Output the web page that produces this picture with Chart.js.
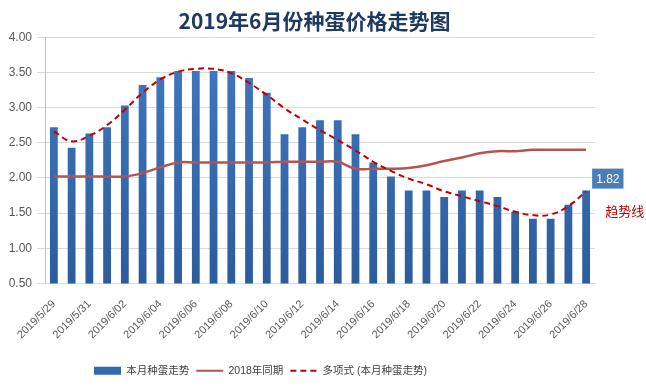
<!DOCTYPE html>
<html>
<head>
<meta charset="utf-8">
<title>2019年6月份种蛋价格走势图</title>
<script src="https://cdn.jsdelivr.net/npm/chart.js@4.4.0/dist/chart.umd.min.js"></script>
<style>
    html, body { margin: 0; padding: 0; background: #fff; }
    .chart-box { position: relative; width: 646px; height: 387px; }
</style>
</head>
<body>
<div class="chart-box"><canvas id="eggChart"></canvas></div>
<script>
// dates (one bar per day), labels shown every other day
const dates = [
    '2019/5/29', '2019/5/30', '2019/5/31', '2019/6/01', '2019/6/02', '2019/6/03',
    '2019/6/04', '2019/6/05', '2019/6/06', '2019/6/07', '2019/6/08', '2019/6/09',
    '2019/6/10', '2019/6/11', '2019/6/12', '2019/6/13', '2019/6/14', '2019/6/15',
    '2019/6/16', '2019/6/17', '2019/6/18', '2019/6/19', '2019/6/20', '2019/6/21',
    '2019/6/22', '2019/6/23', '2019/6/24', '2019/6/25', '2019/6/26', '2019/6/27',
    '2019/6/28'
];
const thisMonth = [
    2.72, 2.43, 2.63, 2.72, 3.03, 3.32, 3.43, 3.52, 3.52, 3.52, 3.52, 3.42, 3.21,
    2.62, 2.72, 2.82, 2.82, 2.62, 2.22, 2.02, 1.82, 1.82, 1.73, 1.82, 1.82, 1.73,
    1.52, 1.42, 1.42, 1.62, 1.82
];
const lastYear = [
    2.02, 2.02, 2.02, 2.02, 2.02, 2.07, 2.15, 2.22, 2.22, 2.22, 2.22, 2.22, 2.22,
    2.23, 2.23, 2.23, 2.23, 2.13, 2.13, 2.13, 2.14, 2.18, 2.24, 2.29, 2.35, 2.38,
    2.38, 2.40, 2.40, 2.40, 2.40
];
// polynomial trend
const trendLine = [
    2.66, 2.52, 2.60, 2.75, 2.97, 3.21, 3.40, 3.51, 3.55, 3.55, 3.49, 3.35, 3.18,
    2.99, 2.83, 2.68, 2.54, 2.39, 2.23, 2.10, 1.99, 1.91, 1.81, 1.74, 1.67, 1.60,
    1.52, 1.47, 1.48, 1.60, 1.81
];
const seriesNames = ['本月种蛋走势', '2018年同期', '多项式 (本月种蛋走势)'];
const yMin = 0.5, yMax = 4, yStep = 0.5;

const FONT = "'Liberation Sans', 'Noto Sans CJK SC', sans-serif";

// value box on the last bar + "趋势线" note
const endLabel = {
    id: 'endLabel',
    afterLayout(chart) {
        // legend sits left of centre and title a bit right in the original
        chart.legend.left = 87;
        chart.titleBlock.left += 15;
        chart.titleBlock.right += 15;
    },
    afterDatasetsDraw(chart) {
        const { ctx, scales: { x, y } } = chart;
        const i = thisMonth.length - 1;
        const px = x.getPixelForValue(i);
        const py = y.getPixelForValue(thisMonth[i]);
        const text = thisMonth[i].toFixed(2);
        ctx.save();
        ctx.font = '12px ' + FONT;
        const w = ctx.measureText(text).width + 8;
        const h = 20;
        const bx = px + 6, by = py - h - 2;
        ctx.fillStyle = '#4a7ebb';
        ctx.fillRect(bx, by, w, h);
        ctx.fillStyle = '#fff';
        ctx.textBaseline = 'middle';
        ctx.fillText(text, bx + 4, by + h / 2 + 1);
        ctx.fillStyle = '#c00000';
        ctx.font = "13px 'Noto Sans CJK SC', sans-serif";
        ctx.fillText('趋势线', px + 19, py + 20);
        ctx.restore();
    }
};

function barFill(context) {
    const area = context.chart.chartArea;
    if (!area) return '#3366aa';
    const g = context.chart.ctx.createLinearGradient(0, area.top, 0, area.bottom);
    g.addColorStop(0, '#4279c2');
    g.addColorStop(1, '#2c5c9c');
    return g;
}

const ctx = document.getElementById('eggChart').getContext('2d');
new Chart(ctx, {
    type: 'bar',
    data: {
        labels: dates,
        datasets: [
            {
                label: seriesNames[0],
                data: thisMonth,
                backgroundColor: barFill,
                barPercentage: 0.44,
                categoryPercentage: 1,
                order: 3
            },
            {
                type: 'line',
                label: seriesNames[1],
                data: lastYear,
                borderColor: '#b65450',
                borderWidth: 2.5,
                pointRadius: 0,
                tension: 0.4,
                fill: false,
                order: 2
            },
            {
                type: 'line',
                label: seriesNames[2],
                data: trendLine,
                borderColor: '#c00000',
                borderWidth: 2,
                borderDash: [6, 4],
                pointRadius: 0,
                tension: 0.4,
                fill: false,
                order: 1
            }
        ]
    },
    options: {
        responsive: true,
        maintainAspectRatio: false,
        animation: false,
        layout: { padding: { left: 4, right: 51, bottom: 1 } },
        scales: {
            x: {
                grid: { display: false },
                border: { color: '#d9d9d9' },
                ticks: {
                    autoSkip: false,
                    maxRotation: 45,
                    minRotation: 45,
                    padding: 6,
                    color: '#595959',
                    font: { family: FONT, size: 11 },
                    callback: (v, i) => (i % 2 === 0 ? dates[i] : null)
                },
                afterFit: s => { s.height = 75; }
            },
            y: {
                min: yMin,
                max: yMax,
                grid: { color: '#d9d9d9' },
                border: { display: true, color: '#bfbfbf' },
                ticks: {
                    stepSize: yStep,
                    padding: 5,
                    color: '#595959',
                    font: { family: FONT, size: 12 },
                    callback: v => v.toFixed(2)
                },
                afterFit: s => { s.width = 41; }
            }
        },
        plugins: {
            title: {
                display: true,
                text: '2019年6月份种蛋价格走势图',
                color: '#1f3a60',
                font: { family: "'Noto Sans CJK SC', sans-serif", size: 21, weight: 'bold' },
                padding: { top: 8, bottom: 4 }
            },
            legend: {
                position: 'bottom',
                align: 'start',
                labels: {
                    usePointStyle: true,
                    pointStyleWidth: 27,
                    boxHeight: 8,
                    padding: 7,
                    color: '#404040',
                    font: { family: FONT, size: 10.5 },
                    generateLabels: chart => chart.data.datasets.map((ds, i) => ({
                        text: ds.label,
                        datasetIndex: i,
                        fillStyle: i === 0 ? '#3469ad' : 'rgba(0,0,0,0)',
                        strokeStyle: i === 0 ? '#3469ad' : ds.borderColor,
                        lineWidth: i === 0 ? 0 : 2,
                        lineDash: ds.borderDash || [],
                        pointStyle: i === 0 ? 'rect' : 'line',
                        fontColor: '#404040',
                        hidden: false
                    }))
                }
            },
            tooltip: { enabled: false }
        }
    },
    plugins: [endLabel]
});
</script>
</body>
</html>
